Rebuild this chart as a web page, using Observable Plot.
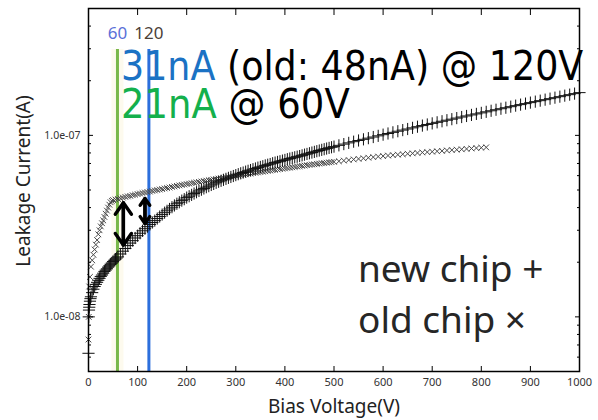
<!DOCTYPE html>
<html><head><meta charset="utf-8">
<script src="https://cdn.jsdelivr.net/npm/d3@7"></script>
<script src="https://cdn.jsdelivr.net/npm/@observablehq/plot@0.6"></script>
<style>body{margin:0;background:#fff}#chart{width:598px;height:420px}</style>
</head><body><div id="chart"></div>
<script>
// new chip (+): [bias voltage V, leakage current nA]
const newChip = [
[0,6.3],[0.5,10.0],[1,10.9],[1.5,11.3],[2,11.7],[3,12.2],[4,12.6],[5,12.9],[7.5,13.6],[10,14.2],
[12.5,14.7],[15,15.1],[17.5,15.5],[20,15.9],[22.5,16.3],[25,16.7],[27.5,17.0],[30,17.4],[32.5,17.8],[35,18.1],
[37.5,18.4],[40,18.8],[42.5,19.1],[45,19.5],[47.5,19.8],[50,20.2],[52.5,20.5],[55,20.8],[57.5,21.1],[60,21.4],
[65,22.2],[70,23.0],[75,23.8],[80,24.7],[85,25.5],[90,26.3],[95,27.2],[100,28.0],[105,28.9],[110,29.8],
[115,30.6],[120,31.4],[125,32.3],[130,33.1],[135,33.9],[140,34.8],[145,35.7],[150,36.6],[155,37.5],[160,38.4],
[165,39.3],[170,40.2],[175,41.1],[180,42.0],[185,42.8],[190,43.7],[195,44.5],[200,45.4],[205,46.2],[210,47.0],
[215,47.8],[220,48.6],[225,49.4],[230,50.2],[235,51.0],[240,51.8],[245,52.5],[250,53.3],[255,54.0],[260,54.8],
[265,55.5],[270,56.2],[275,56.9],[280,57.6],[285,58.3],[290,59.0],[295,59.7],[300,60.4],[305,61.1],[310,61.8],
[315,62.4],[320,63.1],[325,63.8],[330,64.4],[335,65.1],[340,65.7],[345,66.4],[350,67.0],[355,67.6],[360,68.3],
[365,68.9],[370,69.5],[375,70.2],[380,70.8],[385,71.4],[390,72.0],[395,72.6],[400,73.2],[405,73.9],[410,74.5],
[415,75.1],[420,75.7],[425,76.3],[430,76.9],[435,77.6],[440,78.3],[445,79.0],[450,79.7],[455,80.4],[460,81.1],
[465,81.8],[470,82.5],[475,83.2],[480,83.9],[485,84.6],[490,85.3],[495,86.0],[500,86.7],
[510,88.1],[520,89.5],[530,90.9],[540,92.3],[550,93.7],[560,95.1],[570,96.5],[580,97.9],[590,99.4],[600,100.9],
[610,102.4],[620,103.9],[630,105.4],[640,106.9],[650,108.4],[660,110.0],[670,111.6],[680,113.2],[690,114.8],[700,116.4],
[710,118.0],[720,119.6],[730,121.2],[740,122.8],[750,124.5],[760,126.2],[770,127.9],[780,129.6],[790,131.3],[800,133.0],
[810,134.8],[820,136.6],[830,138.4],[840,140.2],[850,142.0],[860,143.9],[870,145.8],[880,147.7],[890,149.6],[900,151.5],
[910,153.4],[920,155.3],[930,157.3],[940,159.3],[950,161.3],[960,163.4],[970,165.5],[980,167.6],[990,169.8],[1000,172.0]
];
// old chip (x): [bias voltage V, leakage current nA]
const oldChip = [
[0,7.5],[0.5,10.0],[1.5,14.7],[3,16.6],[5,18.9],[7.5,20.5],[10,22.0],[12.5,23.5],[15,25.0],[17.5,26.5],
[20,28.5],[22.5,30.0],[25,31.5],[27.5,32.8],[30,34.0],[32.5,35.5],[35,37.0],[37.5,38.5],[40,40.0],[42.5,41.5],
[45,42.8],[47.5,43.5],[50,44.0],
[55,44.3],[60,44.6],[65,45.0],[70,45.4],[75,45.8],[80,46.1],[85,46.4],[90,46.8],[95,47.1],[100,47.5],
[105,47.8],[110,48.1],[115,48.4],[120,48.7],[125,49.0],[130,49.4],[135,49.7],[140,50.0],[145,50.3],[150,50.6],
[155,51.0],[160,51.3],[165,51.6],[170,52.0],[175,52.3],[180,52.7],[185,53.0],[190,53.3],[195,53.6],[200,53.9],
[205,54.2],[210,54.5],[215,54.8],[220,55.1],[225,55.4],[230,55.7],[235,56.0],[240,56.3],[245,56.6],[250,56.9],
[255,57.2],[260,57.5],[265,57.8],[270,58.0],[275,58.3],[280,58.6],[285,58.9],[290,59.2],[295,59.5],[300,59.8],
[305,60.1],[310,60.4],[315,60.7],[320,61.0],[325,61.3],[330,61.6],[335,61.9],[340,62.2],[345,62.5],[350,62.8],
[355,63.1],[360,63.4],[365,63.7],[370,64.0],[375,64.3],[380,64.6],[385,64.9],[390,65.2],[395,65.5],[400,65.8],
[405,66.1],[410,66.4],[415,66.7],[420,67.0],[425,67.3],[430,67.6],[435,67.9],[440,68.2],[445,68.5],[450,68.8],
[455,69.1],[460,69.3],[465,69.6],[470,69.9],[475,70.2],[480,70.4],[485,70.7],[490,71.0],[495,71.2],[500,71.5],
[510,72.0],[520,72.6],[530,73.1],[540,73.7],[550,74.2],[560,74.8],[570,75.3],[580,75.9],[590,76.4],[600,76.9],
[610,77.4],[620,77.8],[630,78.3],[640,78.7],[650,79.2],[660,79.6],[670,80.0],[680,80.5],[690,80.9],[700,81.3],
[710,81.7],[720,82.1],[730,82.6],[740,83.0],[750,83.4],[760,83.8],[770,84.2],[780,84.7],[790,85.1],[800,85.5],
[810,85.9]
];
const xTicks = [0,100,200,300,400,500,600,700,800,900,1000];
const yMajor = [1e-8, 1e-7];
const yMajorLabels = ["1.0e-08", "1.0e-07"];
const yMinor = [6e-9,7e-9,8e-9,9e-9,2e-8,3e-8,4e-8,5e-8,6e-8,7e-8,8e-8,9e-8,2e-7,3e-7,4e-7];
const markerV = [59, 123];
const markerLabels = ["60", "120"];
const markerColors = ["#79b84a", "#2c6fdc"];
const markerLabelColors = ["#5b70d8", "#4b4038"];
const arrowV = [71, 115];
const arrowLow = [24.9, 32.7];   // nA
const arrowHigh = [42.5, 44.9];  // nA

const toA = d => ({v: d[0], a: d[1] * 1e-9});
const newData = newChip.map(toA);
const oldData = oldChip.map(toA);
const markers = markerV.map((v, i) => ({v, label: markerLabels[i], c: markerColors[i], lc: markerLabelColors[i]}));
const arrows = arrowV.map((v, i) => ({v, lo: arrowLow[i] * 1e-9, hi: arrowHigh[i] * 1e-9}));

const FONT = "'Noto Sans', sans-serif";
const chart = Plot.plot({
  width: 598, height: 420,
  marginLeft: 88, marginRight: 19, marginTop: 8, marginBottom: 49,
  style: {fontFamily: FONT, fontSize: "11px", color: "#333", background: "#fff", overflow: "visible"},
  x: {domain: [0, 1000], axis: null, label: null},
  y: {type: "log", domain: [5e-9, 5e-7], axis: null, label: null},
  marks: [
    Plot.ruleX([markers[0]], {x: "v", stroke: "#fdfaee", strokeWidth: 12, insetTop: 41}),
    Plot.ruleX(markers, {x: "v", stroke: "c", strokeWidth: 3, insetTop: 41}),
    Plot.dot(oldData, {x: "v", y: "a", symbol: "times", r: 2.7, stroke: "#4a4a4a", strokeWidth: 1}),
    Plot.dot(newData, {x: "v", y: "a", symbol: "plus", r: 4, stroke: "#111", strokeWidth: 1}),
    Plot.arrow(arrows, {x1: "v", x2: "v", y1: "lo", y2: "hi", stroke: "#000", strokeWidth: 3.4, headLength: 9, headAngle: 70}),
    Plot.arrow(arrows, {x1: "v", x2: "v", y1: "hi", y2: "lo", stroke: "#000", strokeWidth: 3.4, headLength: 9, headAngle: 70}),
    Plot.frame({stroke: "#000", strokeWidth: 1.5}),
    Plot.axisX(xTicks, {anchor: "bottom", tickSize: -5, tickPadding: 12, tickFormat: d => String(d), fontSize: 11, fontFamily: FONT, fill: "#333", stroke: "#000", label: null}),
    Plot.axisX(xTicks, {anchor: "top", tickSize: -6, fill: "none", stroke: "#000", label: null}),
    Plot.axisY(yMajor, {anchor: "left", tickSize: -5, tickPadding: 13, tickFormat: d => yMajorLabels[yMajor.indexOf(d)], fontSize: 10.5, fontFamily: FONT, fill: "#333", stroke: "#000", label: null}),
    Plot.axisY(yMinor, {anchor: "left", tickSize: -3, fill: "none", stroke: "#000", label: null}),
    Plot.axisY(yMajor, {anchor: "right", tickSize: -5, fill: "none", stroke: "#000", label: null}),
    Plot.axisY(yMinor, {anchor: "right", tickSize: -3, fill: "none", stroke: "#000", label: null}),
    Plot.text(markers, {x: "v", text: "label", fill: "lc", frameAnchor: "top", dy: 18, fontSize: 17, fontFamily: FONT})
  ]
});
document.getElementById("chart").append(chart);

const svg = d3.select(chart);
const big = "'DejaVu Sans', sans-serif";
const t1 = svg.append("text").attr("transform", "translate(121,80) scale(0.985,1.08)").attr("text-anchor", "start")
  .attr("font-family", big).attr("font-size", 37).style("white-space", "pre");
t1.append("tspan").attr("fill", "#1b72c4").text("31nA");
t1.append("tspan").attr("fill", "#000").text(" (old: 48nA) @ 120V");
const t2 = svg.append("text").attr("transform", "translate(121,118) scale(1,1.08)").attr("text-anchor", "start")
  .attr("font-family", big).attr("font-size", 37).style("white-space", "pre");
t2.append("tspan").attr("fill", "#14b04c").text("21nA");
t2.append("tspan").attr("fill", "#000").text(" @ 60V");

svg.append("text").attr("x", 358).attr("y", 282).attr("text-anchor", "start").attr("font-family", FONT).attr("font-size", 37).attr("fill", "#262626").text("new chip +");
svg.append("text").attr("x", 358).attr("y", 333).attr("text-anchor", "start").attr("font-family", FONT).attr("font-size", 37).attr("fill", "#262626").text("old chip ×");

svg.append("text").attr("x", 334).attr("y", 413).attr("text-anchor", "middle").attr("font-family", FONT).attr("font-size", 19).attr("fill", "#222").text("Bias Voltage(V)");
svg.append("text").attr("transform", "translate(30,181) rotate(-90)").attr("text-anchor", "middle").attr("font-family", FONT).attr("font-size", 19).attr("fill", "#222").text("Leakage Current(A)");
</script>
</body></html>
